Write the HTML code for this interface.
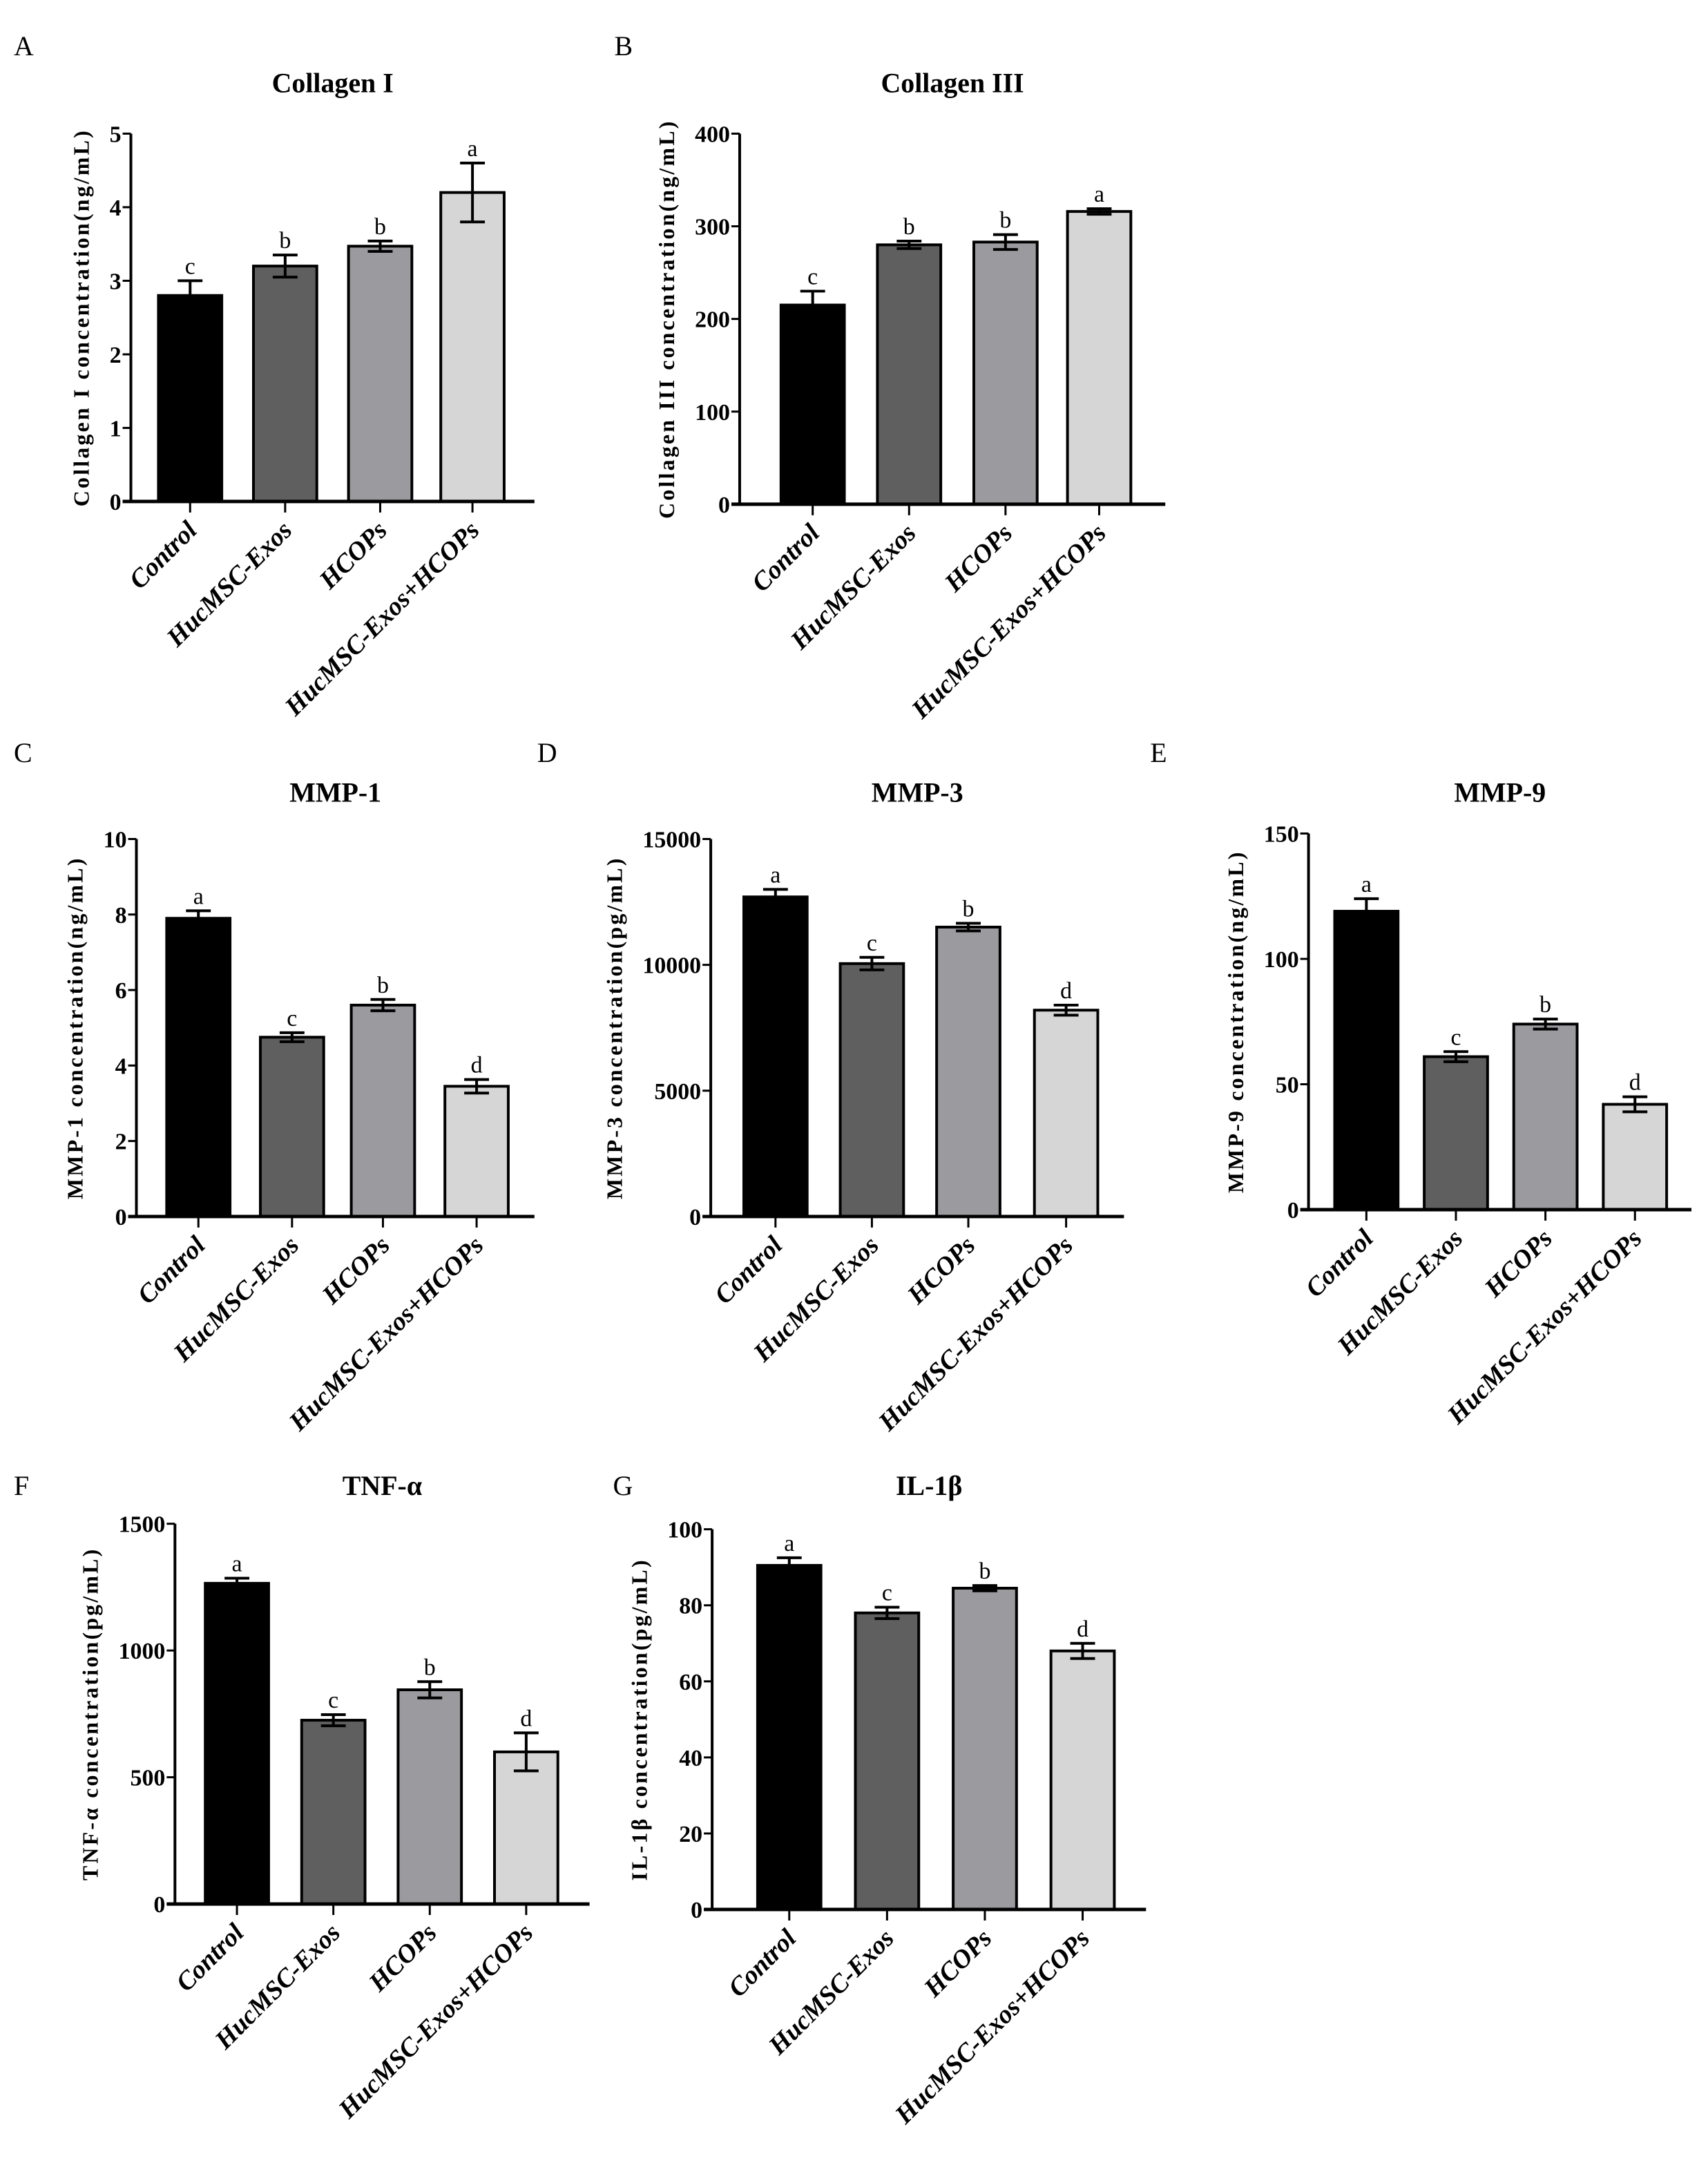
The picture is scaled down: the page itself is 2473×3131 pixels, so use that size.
<!DOCTYPE html>
<html><head><meta charset="utf-8"><style>
html,body{margin:0;padding:0;background:#fff}
svg{display:block}
text{font-family:"Liberation Serif",serif;fill:#000}
</style></head><body>
<svg id="fig" width="2473" height="3131" viewBox="0 0 1240 1570" xmlns="http://www.w3.org/2000/svg"></svg>
<script>
const categories = ["Control","HucMSC-Exos","HCOPs","HucMSC-Exos+HCOPs"];
const barColors = ["#000000","#5f5f5f","#9b9b9f","#d6d6d6"];
const colIValues = [2.8,3.2,3.47,4.2];
const colIErr = [0.2,0.15,0.07,0.4];
const colILetters = ["c","b","b","a"];
const colITicks = [0,1,2,3,4,5];
const colIIIValues = [215,280,283,316];
const colIIIErr = [15,4,8,3];
const colIIILetters = ["c","b","b","a"];
const colIIITicks = [0,100,200,300,400];
const mmp1Values = [7.9,4.75,5.6,3.45];
const mmp1Err = [0.2,0.12,0.15,0.18];
const mmp1Letters = ["a","c","b","d"];
const mmp1Ticks = [0,2,4,6,8,10];
const mmp3Values = [12700,10050,11500,8200];
const mmp3Err = [300,250,150,200];
const mmp3Letters = ["a","c","b","d"];
const mmp3Ticks = [0,5000,10000,15000];
const mmp9Values = [119,61,74,42];
const mmp9Err = [5,2,2,3];
const mmp9Letters = ["a","c","b","d"];
const mmp9Ticks = [0,50,100,150];
const tnfValues = [1265,725,845,600];
const tnfErr = [20,22,32,75];
const tnfLetters = ["a","c","b","d"];
const tnfTicks = [0,500,1000,1500];
const ilValues = [90.5,78,84.5,68];
const ilErr = [2,1.5,0.7,2];
const ilLetters = ["a","c","b","d"];
const ilTicks = [0,20,40,60,80,100];

const NS="http://www.w3.org/2000/svg";
const svg=document.getElementById('fig');
function mk(tag,attrs,parent,txt){const e=document.createElementNS(NS,tag);for(const k in attrs)e.setAttribute(k,attrs[k]);if(txt!==undefined)e.textContent=txt;(parent||svg).appendChild(e);return e;}

function panel(cfg){
  const g=mk('g',{});
  
  
  const maxT=cfg.ticks[cfg.ticks.length-1];
  const y=v=>cfg.zero-(v/maxT)*(cfg.zero-cfg.top);
  const lt=mk('text',{x:cfg.lx,y:cfg.ly,'font-size':20},g,cfg.letter);
  
  
  const t=mk('text',{x:(cfg.ax+cfg.end)/2,y:cfg.ty,'font-size':20,'font-weight':'bold','text-anchor':'middle'},g,cfg.title);
  
  
  cfg.ticks.forEach(v=>{
    const tk=mk('line',{x1:cfg.ax-6,x2:cfg.ax,y1:y(v),y2:y(v),stroke:'#000','stroke-width':1.5},g);
    
    
    const tl=mk('text',{x:cfg.ax-7,y:y(v)+6,'font-size':17,'font-weight':'bold','text-anchor':'end'},g,String(v));
    
    
  });
  const midY=(cfg.top+cfg.zero)/2, yx=cfg.ax-(String(maxT).length*8.5+22);
  const yl=mk('text',{x:yx,y:midY,'font-size':16,'font-weight':'bold','text-anchor':'middle','letter-spacing':'1.6',transform:`rotate(-90 ${yx} ${midY})`},g,cfg.ylabel);
  
  
  cfg.values.forEach((v,i)=>{
    const cx=cfg.centers[i], w=46;
    const b=mk('rect',{x:cx-w/2,y:y(v),width:w,height:cfg.zero-y(v),fill:barColors[i],stroke:'#000','stroke-width':2},g);
    
    
    const e=cfg.err[i];
    const eb=mk('path',{d:`M${cx},${y(v-e)}V${y(v+e)}M${cx-9},${y(v+e)}H${cx+9}M${cx-9},${y(v-e)}H${cx+9}`,stroke:'#000','stroke-width':2,fill:'none'},g);
    
    
    const sl=mk('text',{x:cx,y:y(v+e)-5,'font-size':17,'text-anchor':'middle'},g,cfg.letters[i]);
    
    
    const xt=mk('line',{x1:cx,x2:cx,y1:cfg.zero,y2:cfg.zero+8,stroke:'#000','stroke-width':1.5},g);
    
    
    const lx=cx+6, ly=cfg.zero+22;
    const cl=mk('text',{x:lx,y:ly,'font-size':19,'font-weight':'bold','font-style':'italic','text-anchor':'end',transform:`rotate(-45 ${lx} ${ly})`},g,categories[i]);
    
    
  });
  const ya=mk('line',{x1:cfg.ax,x2:cfg.ax,y1:cfg.top,y2:cfg.zero,stroke:'#000','stroke-width':2},g);
  
  
  const xa=mk('line',{x1:cfg.ax-6,x2:cfg.end,y1:cfg.zero,y2:cfg.zero,stroke:'#000','stroke-width':2.5},g);
  
  
}

panel({key:'a',letter:'A',lx:10,ly:40,title:'Collagen I',ty:67,ylabel:'Collagen I concentration(ng/mL)',ax:95,end:388,top:97,zero:364,centers:[138,207,276,343],values:colIValues,err:colIErr,letters:colILetters,ticks:colITicks});
panel({key:'b',letter:'B',lx:446,ly:40,title:'Collagen III',ty:67,ylabel:'Collagen III concentration(ng/mL)',ax:537,end:846,top:97,zero:366,centers:[590,660,730,798],values:colIIIValues,err:colIIIErr,letters:colIIILetters,ticks:colIIITicks});
panel({key:'c',letter:'C',lx:10,ly:553,title:'MMP-1',ty:582,ylabel:'MMP-1 concentration(ng/mL)',ax:99,end:388,top:609,zero:883,centers:[144,212,278,346],values:mmp1Values,err:mmp1Err,letters:mmp1Letters,ticks:mmp1Ticks});
panel({key:'d',letter:'D',lx:390,ly:553,title:'MMP-3',ty:582,ylabel:'MMP-3 concentration(pg/mL)',ax:516,end:816,top:609,zero:883,centers:[563,633,703,774],values:mmp3Values,err:mmp3Err,letters:mmp3Letters,ticks:mmp3Ticks});
panel({key:'e',letter:'E',lx:835,ly:553,title:'MMP-9',ty:582,ylabel:'MMP-9 concentration(ng/mL)',ax:950,end:1228,top:605,zero:878,centers:[992,1057,1122,1187],values:mmp9Values,err:mmp9Err,letters:mmp9Letters,ticks:mmp9Ticks});
panel({key:'f',letter:'F',lx:10,ly:1085,title:'TNF-α',ty:1085,ylabel:'TNF-α concentration(pg/mL)',ax:127,end:428,top:1106,zero:1382,centers:[172,242,312,382],values:tnfValues,err:tnfErr,letters:tnfLetters,ticks:tnfTicks});
panel({key:'g',letter:'G',lx:445,ly:1085,title:'IL-1β',ty:1085,ylabel:'IL-1β concentration(pg/mL)',ax:517,end:832,top:1110,zero:1386,centers:[573,644,715,786],values:ilValues,err:ilErr,letters:ilLetters,ticks:ilTicks});
</script>
</body></html>
